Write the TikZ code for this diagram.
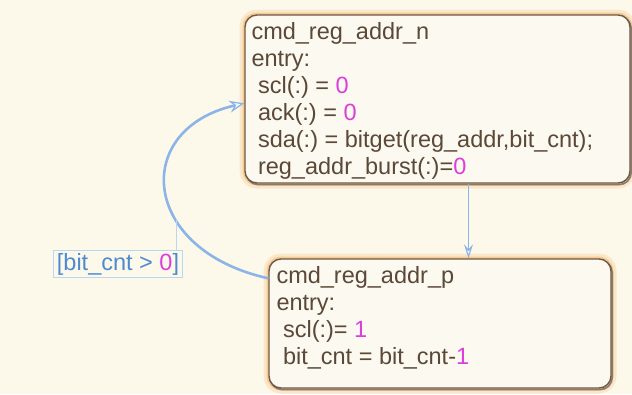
\documentclass[tikz,border=0pt]{standalone}
\usepackage{fontspec}
\setmainfont{Liberation Sans}
\usepackage{xcolor}
\definecolor{ChartPaper}{HTML}{FDF9EA}
\definecolor{StateFill}{HTML}{FCF9F1}
\definecolor{StateBorder}{HTML}{6E5A47}
\definecolor{StateGlow}{HTML}{F3C27E}
\definecolor{StateInk}{HTML}{5B4837}
\definecolor{StateMagenta}{HTML}{DB3EDB}
\definecolor{FlowBlue}{HTML}{8CB4E8}
\definecolor{GuardInk}{HTML}{4D8AD1}
\definecolor{GuardLine}{HTML}{B9D6F3}
\usetikzlibrary{positioning,arrows.meta}
\newcommand\statenum[1]{\textcolor{StateMagenta}{#1}}
\newcommand\ind{\hspace*{0.278em}}
\frenchspacing
\tikzset{
  statebox/.style={draw=StateBorder,line width=1.4pt,fill=StateFill,rounded corners=12pt,inner sep=0pt,
    preaction={draw=StateGlow!40,line width=11pt},preaction={draw=StateGlow!85,line width=5pt},
    preaction={draw=StateBorder!80,line width=1.6pt,transform canvas={shift={(1.2pt,-1.6pt)}}}},
  statetext/.style={text=StateInk,align=left,inner sep=0pt,anchor=north west,font=\fontsize{23.5}{27}\selectfont},
  guardlabel/.style={draw=GuardLine,line width=1pt,fill=ChartPaper,text=GuardInk,inner xsep=3pt,inner ysep=3pt,font=\fontsize{23.5}{27}\selectfont},
  loopflow/.style={-{Stealth[open,fill=white,length=15pt,width=12pt,inset=5pt,line width=1.3pt]},draw=FlowBlue,line width=2.6pt},
  flowdown/.style={-{Stealth[open,fill=white,length=14pt,width=9pt,inset=5pt,line width=1.2pt]},draw=FlowBlue,line width=1.4pt},
  guardlink/.style={draw=GuardLine,line width=1pt}
}
\begin{document}
\begin{tikzpicture}[x=1pt,y=-1pt]
  \useasboundingbox[fill=ChartPaper] (0,0) rectangle (632,394);
  % states
  \node[statebox,minimum width=385pt,minimum height=168pt] (addrn) at (437.5,99) {};
  \node[statetext] (addrntext) at ([xshift=7pt,yshift=-8pt]addrn.north west)
    {cmd\_reg\_addr\_n\\entry:\\\ind scl(:) = \statenum{0}\\\ind ack(:) = \statenum{0}\\\ind sda(:) = bitget(reg\_addr,bit\_cnt);\\\ind reg\_addr\_burst(:)=\statenum{0}};
  \node[statebox,minimum width=342pt,minimum height=129pt] (addrp) at (440,323.5) {};
  \node[statetext] (addrptext) at ([xshift=8pt,yshift=-8pt]addrp.north west)
    {cmd\_reg\_addr\_p\\entry:\\\ind scl(:)= \statenum{1}\\\ind bit\_cnt = bit\_cnt-\statenum{1}};
  \node[guardlabel] (guard) at (118,264) {[bit\_cnt > \statenum{0}]};
  % transitions
  \draw[flowdown] ([xshift=31pt]addrn.south) -- ([xshift=31pt]addrn.south |- addrp.north);
  \draw[loopflow] ([yshift=-20pt]addrp.north west) .. controls (140,250) and (131,129) .. ([yshift=-89pt]addrn.north west)
    coordinate[pos=0.36] (hook);
  \draw[guardlink] (hook) -- (hook |- guard.north);
\end{tikzpicture}
\end{document}
